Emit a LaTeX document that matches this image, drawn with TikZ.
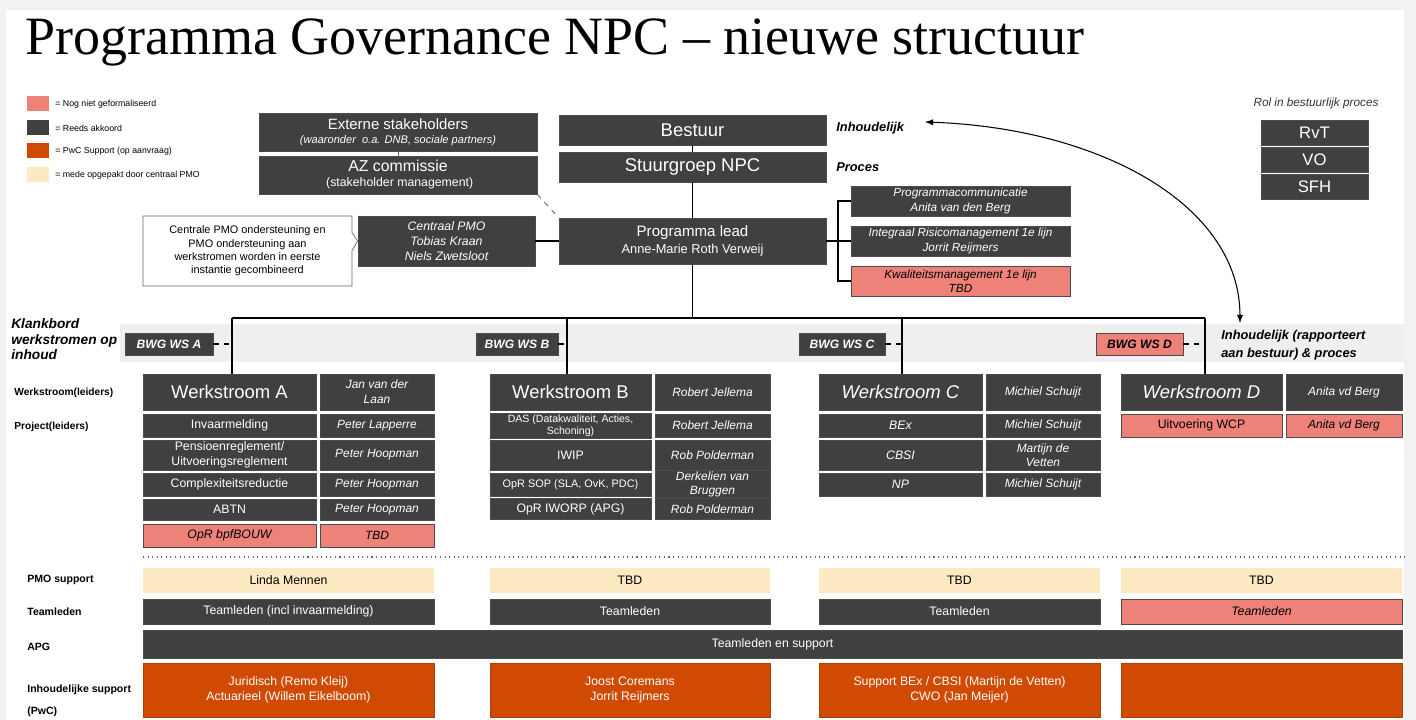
\documentclass[tikz,border=0pt]{standalone}
\usepackage{fontspec}
\setmainfont{Liberation Sans}
\newfontfamily\titelfont{Liberation Serif}
\usetikzlibrary{arrows,positioning}
\usetikzlibrary{shapes.callouts}
\definecolor{donker}{HTML}{404040}
\definecolor{roze}{HTML}{EE8279}
\definecolor{oranje}{HTML}{D04A02}
\definecolor{creme}{HTML}{FDE9C2}
\definecolor{band}{HTML}{EFEFEF}
\newcommand{\fsz}[2]{\fontsize{#1}{#2}\selectfont}

\begin{document}
\begin{tikzpicture}[x=0.2mm,y=-0.2mm]
\tikzstyle{blok}=[rectangle,draw=black!70,line width=0.4pt,inner sep=1pt,align=center]
\tikzstyle{donkerblok}=[blok,fill=donker,text=white]
\tikzstyle{rozeblok}=[blok,fill=roze,text=black]
\tikzstyle{oranjeblok}=[blok,fill=oranje,draw=oranje!85!black,text=white]
\tikzstyle{cremeblok}=[blok,fill=creme,draw=none,text=black]
\tikzstyle{lijn}=[line width=0.7pt]
\tikzstyle{label}=[anchor=west,inner sep=0pt,align=left]
\tikzset{maat/.style 2 args={minimum width=#1*0.2mm,minimum height=#2*0.2mm}}
\useasboundingbox (0,0) rectangle (1416,720);
\fill[gray!10] (0,0) rectangle (1416,720);
\fill[white] (6,10) rectangle (1404,720);

% titel en legenda
\node [anchor=base west,inner sep=0pt,font=\titelfont\fsz{30.7}{32}] (titel) at (25,55) {Programma Governance NPC – nieuwe structuur};
\node [fill=roze,maat={22}{15}] (lg1) at (38,104) {};
\node [fill=donker,maat={22}{15}] (lg2) at (38,128) {};
\node [fill=oranje,maat={22}{15}] (lg3) at (38,151) {};
\node [fill=creme,maat={22}{15}] (lg4) at (38,175) {};
\node [label,font=\fsz{5}{6}] (lt1) at (55,104) {= Nog niet geformaliseerd};
\node [label,font=\fsz{5}{6}] (lt2) at (55,128) {= Reeds akkoord};
\node [label,font=\fsz{5}{6}] (lt3) at (55,151) {= PwC Support (op aanvraag)};
\node [label,font=\fsz{5}{6}] (lt4) at (55,175) {= mede opgepakt door centraal PMO};

% bovenste deel
\node [donkerblok,maat={278}{38},font=\fsz{8.5}{9}] (extern) at (398,132) {Externe stakeholders\\[-1pt]{\fsz{6.3}{7}\itshape (waaronder\ \ o.a. DNB, sociale partners)}};
\node [donkerblok,maat={278}{38},font=\fsz{9}{9.5}] (az) at (398,175) {AZ commissie\\[-1pt]{\fsz{7}{8} (stakeholder management)}};
\node [donkerblok,maat={177}{50},font=\fsz{7}{8.5}\itshape] (pmo) at (446.5,241) {Centraal PMO\\Tobias Kraan\\Niels Zwetsloot};
\node [rectangle callout,draw=black!60,fill=white,align=center,maat={209}{70},font=\fsz{6.2}{7.6},callout absolute pointer={(pmo.west)},callout pointer width=3.6mm] (uitleg) at (247.5,251) {Centrale PMO ondersteuning en\\PMO ondersteuning aan\\werkstromen worden in eerste\\instantie gecombineerd};
\node [donkerblok,maat={267}{30},font=\fsz{10.5}{11}] (bestuur) at (692.5,130) {Bestuur};
\node [donkerblok,maat={267}{30},font=\fsz{10.5}{11}] (stuurgroep) at (692.5,167) {Stuurgroep NPC};
\node [donkerblok,maat={267}{46},font=\fsz{8.6}{10}] (lead) at (692.5,241) {Programma lead\\{\fsz{7.3}{8}Anne-Marie Roth Verweij}};
\node [label,font=\fsz{7.3}{8}\bfseries\itshape] (inhoud) at (836,128) {Inhoudelijk};
\node [label,font=\fsz{7.3}{8}\bfseries\itshape] (proces) at (836,167) {Proces};
\node [donkerblok,maat={219}{30},font=\fsz{6.7}{8.2}\itshape] (comm) at (960.5,201) {Programmacommunicatie\\Anita van den Berg};
\node [donkerblok,maat={219}{30},font=\fsz{6.7}{8.2}\itshape] (risico) at (960.5,241) {Integraal Risicomanagement 1e lijn\\Jorrit Reijmers};
\node [rozeblok,maat={219}{30},font=\fsz{6.7}{8.2}\itshape] (kwal) at (960.5,281) {Kwaliteitsmanagement 1e lijn\\TBD};
\node [font=\fsz{6.7}{8}\itshape,text=black!80] (rol) at (1316,103) {Rol in bestuurlijk proces};
\node [donkerblok,maat={107}{25},font=\fsz{9.5}{10}] (rvt) at (1314.5,133) {RvT};
\node [donkerblok,maat={107}{25},font=\fsz{9.5}{10}] (vo) at (1314.5,160) {VO};
\node [donkerblok,maat={107}{25},font=\fsz{9.5}{10}] (sfh) at (1314.5,187) {SFH};

% klankbord
\fill[band] (120,324) rectangle (1405,362);
\node [anchor=north west,inner sep=0pt,align=left,font=\fsz{7.8}{9}\bfseries\itshape] (klankbord) at (11,318) {Klankbord\\werkstromen op\\inhoud};
\node [donkerblok,maat={88}{22},font=\fsz{6.9}{8}\bfseries\itshape] (bwgA) at (169,344) {BWG WS A};
\node [donkerblok,maat={82}{22},font=\fsz{6.9}{8}\bfseries\itshape] (bwgB) at (517,344) {BWG WS B};
\node [donkerblok,maat={86}{22},font=\fsz{6.9}{8}\bfseries\itshape] (bwgC) at (842,344) {BWG WS C};
\node [rozeblok,maat={87}{22},font=\fsz{6.9}{8}\bfseries\itshape] (bwgD) at (1139.5,344) {BWG WS D};
\node [label,font=\fsz{7.3}{10.5}\bfseries\itshape] (rapport) at (1221,345) {Inhoudelijk (rapporteert\\aan bestuur) \& proces};

% werkstromen
\node [label,font=\fsz{5.8}{7}\bfseries] (lbws) at (14,393) {Werkstroom(leiders)};
\node [label,font=\fsz{5.8}{7}\bfseries] (lbpr) at (14,427) {Project(leiders)};

\node [donkerblok,maat={173}{36},font=\fsz{10.5}{11}] (wsA) at (229.5,392) {Werkstroom A};
\node [donkerblok,maat={114}{36},font=\fsz{6.8}{8.5}\itshape] (wsAl) at (377,392) {Jan van der\\Laan};
\node [donkerblok,maat={173}{23},font=\fsz{7}{8.5}] (pA1) at (229.5,425.5) {Invaarmelding};
\node [donkerblok,maat={114}{23},font=\fsz{6.8}{8.5}\itshape] (pA1l) at (377,425.5) {Peter Lapperre};
\node [donkerblok,maat={173}{30},font=\fsz{7}{8.3}] (pA2) at (229.5,455) {Pensioenreglement/\\Uitvoeringsreglement};
\node [donkerblok,maat={114}{30},font=\fsz{6.8}{8.5}\itshape] (pA2l) at (377,455) {Peter Hoopman};
\node [donkerblok,maat={173}{23},font=\fsz{7}{8.5}] (pA3) at (229.5,484.5) {Complexiteitsreductie};
\node [donkerblok,maat={114}{23},font=\fsz{6.8}{8.5}\itshape] (pA3l) at (377,484.5) {Peter Hoopman};
\node [donkerblok,maat={173}{21},font=\fsz{7}{8.5}] (pA4) at (229.5,509.5) {ABTN};
\node [donkerblok,maat={114}{21},font=\fsz{6.8}{8.5}\itshape] (pA4l) at (377,509.5) {Peter Hoopman};
\node [rozeblok,maat={173}{23},font=\fsz{7}{8.5}\itshape] (pA5) at (229.5,535.5) {OpR bpfBOUW};
\node [rozeblok,maat={114}{23},font=\fsz{6.8}{8.5}\itshape] (pA5l) at (377,535.5) {TBD};

\node [donkerblok,maat={161}{36},font=\fsz{10.5}{11}] (wsB) at (570.5,392) {Werkstroom B};
\node [donkerblok,maat={115}{36},font=\fsz{6.8}{8.5}\itshape] (wsBl) at (712.5,392) {Robert Jellema};
\node [donkerblok,maat={161}{23},font=\fsz{6}{6.8}] (pB1) at (570.5,425.5) {DAS (Datakwaliteit, Acties,\\Schoning)};
\node [donkerblok,maat={115}{23},font=\fsz{6.8}{8.5}\itshape] (pB1l) at (712.5,425.5) {Robert Jellema};
\node [donkerblok,maat={161}{30},font=\fsz{7}{8.5}] (pB2) at (570.5,455) {IWIP};
\node [donkerblok,maat={115}{30},font=\fsz{6.8}{8.5}\itshape] (pB2l) at (712.5,455) {Rob Polderman};
\node [donkerblok,maat={161}{23},font=\fsz{6.2}{7.5}] (pB3) at (570.5,484.5) {OpR SOP (SLA, OvK, PDC)};
\node [donkerblok,maat={115}{23},font=\fsz{6.8}{7.8}\itshape] (pB3l) at (712.5,484.5) {Derkelien van\\Bruggen};
\node [donkerblok,maat={161}{21},font=\fsz{7}{8.5}] (pB4) at (570.5,509) {OpR IWORP (APG)};
\node [donkerblok,maat={115}{21},font=\fsz{6.8}{8.5}\itshape] (pB4l) at (712.5,509) {Rob Polderman};

\node [donkerblok,maat={163}{36},font=\fsz{10.5}{11}\itshape] (wsC) at (900.5,392) {Werkstroom C};
\node [donkerblok,maat={114}{36},font=\fsz{6.8}{8.5}\itshape] (wsCl) at (1043,392) {Michiel Schuijt};
\node [donkerblok,maat={163}{23},font=\fsz{7}{8.5}\itshape] (pC1) at (900.5,425.5) {BEx};
\node [donkerblok,maat={114}{23},font=\fsz{6.8}{8.5}\itshape] (pC1l) at (1043,425.5) {Michiel Schuijt};
\node [donkerblok,maat={163}{30},font=\fsz{7}{8.5}\itshape] (pC2) at (900.5,455) {CBSI};
\node [donkerblok,maat={114}{30},font=\fsz{6.8}{7.8}\itshape] (pC2l) at (1043,455) {Martijn de\\Vetten};
\node [donkerblok,maat={163}{23},font=\fsz{7}{8.5}\itshape] (pC3) at (900.5,484.5) {NP};
\node [donkerblok,maat={114}{23},font=\fsz{6.8}{8.5}\itshape] (pC3l) at (1043,484.5) {Michiel Schuijt};

\node [donkerblok,maat={161}{36},font=\fsz{10.5}{11}\itshape] (wsD) at (1201.5,392) {Werkstroom D};
\node [donkerblok,maat={116}{36},font=\fsz{6.8}{8.5}\itshape] (wsDl) at (1344,392) {Anita vd Berg};
\node [rozeblok,maat={161}{23},font=\fsz{7}{8.5}] (pD1) at (1201.5,425.5) {Uitvoering WCP};
\node [rozeblok,maat={116}{23},font=\fsz{6.8}{8.5}\itshape] (pD1l) at (1344,425.5) {Anita vd Berg};

% ondersteuning
\draw[dotted,line width=0.6pt,black!60] (143,557) -- (1405,557);
\node [label,font=\fsz{6}{7}\bfseries] (lbpmo) at (27,580) {PMO support};
\node [label,font=\fsz{6}{7}\bfseries] (lbteam) at (27,612) {Teamleden};
\node [label,font=\fsz{6}{7}\bfseries] (lbapg) at (27,647) {APG};
\node [label,font=\fsz{6}{7}\bfseries] (lbis) at (27,690) {Inhoudelijke support};
\node [label,font=\fsz{6}{7}\bfseries] (lbpwc) at (27,712) {(PwC)};

\node [cremeblok,maat={291}{25},font=\fsz{7}{8.5}] (pmoA) at (288.5,580.5) {Linda Mennen};
\node [cremeblok,maat={280}{25},font=\fsz{7}{8.5}] (pmoB) at (630,580.5) {TBD};
\node [cremeblok,maat={281}{25},font=\fsz{7}{8.5}] (pmoC) at (959.5,580.5) {TBD};
\node [cremeblok,maat={281}{25},font=\fsz{7}{8.5}] (pmoD) at (1261.5,580.5) {TBD};
\node [donkerblok,maat={291}{25},font=\fsz{7}{8.5}] (tmA) at (288.5,611.5) {Teamleden (incl invaarmelding)};
\node [donkerblok,maat={280}{25},font=\fsz{7}{8.5}] (tmB) at (630,611.5) {Teamleden};
\node [donkerblok,maat={281}{25},font=\fsz{7}{8.5}] (tmC) at (959.5,611.5) {Teamleden};
\node [rozeblok,maat={281}{25},font=\fsz{7}{8.5}\itshape] (tmD) at (1261.5,611.5) {Teamleden};
\node [donkerblok,maat={1259}{28},font=\fsz{7}{8.5}] (apg) at (772.5,644) {Teamleden en support};
\node [oranjeblok,maat={291}{54},font=\fsz{7}{8.5}] (isA) at (288.5,690) {Juridisch (Remo Kleij)\\Actuarieel (Willem Eikelboom)};
\node [oranjeblok,maat={280}{54},font=\fsz{7}{8.5}] (isB) at (630,690) {Joost Coremans\\Jorrit Reijmers};
\node [oranjeblok,maat={281}{54},font=\fsz{7}{8.5}] (isC) at (959.5,690) {Support BEx / CBSI (Martijn de Vetten)\\CWO (Jan Meijer)};
\node [oranjeblok,maat={281}{54}] (isD) at (1261.5,690) {};

% verbindingen
\coordinate (rb) at (838,241);
\coordinate (hub) at (692.5,318);
\coordinate (dA) at (232,318);
\coordinate (dB) at (567,318);
\coordinate (dC) at (902,318);
\coordinate (dD) at (1205,318);
\coordinate (pijlboven) at (925,122);
\coordinate (pijlonder) at (1240,323);

\draw[black!60,line width=0.4pt] (extern) -- (az);
\draw[black!60,line width=0.5pt,dashed] (az.south east) -- (lead.north west);
\draw[lijn] (pmo) -- (lead);
\draw[lijn] (bestuur) -- (stuurgroep);
\draw[lijn] (stuurgroep) -- (lead);
\draw[lijn] (lead.east) -- (rb);
\draw[lijn] (comm.west) -| (rb) |- (kwal.west);
\draw[lijn] (rb) -- (risico.west);
\draw[lijn] (lead.south) -- (hub);
\draw[lijn] (dA) -- (dD);
\draw[lijn] (dA) -- (dA |- wsA.north);
\draw[lijn] (dB) -- (dB |- wsB.north);
\draw[lijn] (dC) -- (dC |- wsC.north);
\draw[lijn] (dD) -- (dD |- wsD.north);
\draw[lijn,dashed] (bwgA.east) -- (bwgA.east -| dA);
\draw[lijn,dashed] (bwgB.east) -- (bwgB.east -| dB);
\draw[lijn,dashed] (bwgC.east) -- (bwgC.east -| dC);
\draw[lijn,dashed] (bwgD.east) -- (bwgD.east -| dD);
\draw[latex-latex,line width=0.6pt] (pijlboven) .. controls (1100,128) and (1240,205) .. (pijlonder);
\end{tikzpicture}
\end{document}
